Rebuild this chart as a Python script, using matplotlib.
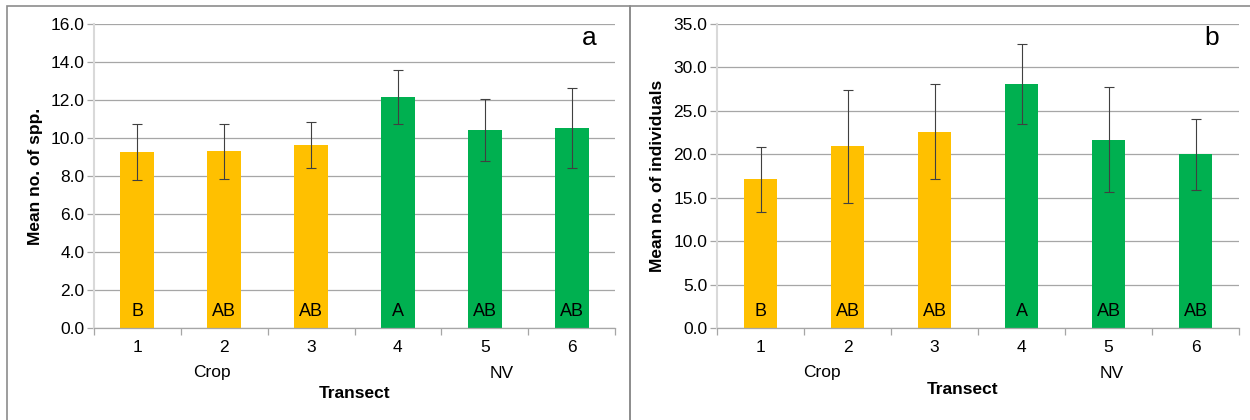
import matplotlib.pyplot as plt
import matplotlib.transforms as mtransforms
from matplotlib.patches import Rectangle
import numpy as np

plt.rcParams['font.family'] = ['Liberation Sans', 'DejaVu Sans']

transects = ['1', '2', '3', '4', '5', '6']
bar_colors = ['#FFC000', '#FFC000', '#FFC000', '#00B050', '#00B050', '#00B050']
letters = ['B', 'AB', 'AB', 'A', 'AB', 'AB']

spp_mean = [9.25, 9.29, 9.62, 12.15, 10.41, 10.53]
spp_err = [1.47, 1.47, 1.2, 1.41, 1.63, 2.1]

ind_mean = [17.1, 20.9, 22.6, 28.1, 21.7, 20.0]
ind_err = [3.75, 6.5, 5.47, 4.6, 6.0, 4.08]

W, H = 1250, 420
FS = 12.5
fig = plt.figure(figsize=(12.5, 4.2), dpi=100)

# panel frames
frame_kw = dict(transform=fig.transFigure, fill=False, edgecolor='#8c8c8c', lw=1.2)
fig.patches.append(Rectangle((7 / W, -0.1), (630 - 7) / W, 1.1 - 6.5 / H, **frame_kw))
fig.patches.append(Rectangle((630 / W, -0.1), 0.6, 1.1 - 6.5 / H, **frame_kw))


def draw_panel(left_px, right_px, means, errs, ymax, ystep, ylabel, ylab_x,
               tag, tag_x, crop_x, nv_x, transect_x, transect_y):
    ax = fig.add_axes([left_px / W, 1 - 328 / H, (right_px - left_px) / W, 304 / H])
    x = np.arange(len(transects))
    ax.bar(x, means, width=0.39, color=bar_colors, zorder=2)
    ax.errorbar(x, means, yerr=errs, fmt='none', ecolor='#404040', elinewidth=0.8,
                capsize=3.5, capthick=0.8, zorder=3)
    ax.set_xlim(-0.5, len(transects) - 0.5)
    ax.set_ylim(0, ymax)
    yt = np.arange(0, ymax + 0.01, ystep)
    ax.set_yticks(yt)
    ax.set_yticklabels([f'{v:.1f}' for v in yt], fontsize=FS)
    ax.yaxis.grid(True, color='#a6a6a6', lw=0.9, zorder=0)
    ax.set_axisbelow(True)
    ax.set_xticks(x)
    ax.set_xticklabels(transects, fontsize=FS)
    ax.set_xticks(np.arange(-0.5, len(transects)), minor=True)
    ax.tick_params(axis='x', which='major', length=0, pad=9)
    ax.tick_params(axis='x', which='minor', length=5, color='#a6a6a6', width=0.9)
    ax.tick_params(axis='y', length=5, color='#a6a6a6', width=0.9, pad=2)
    for s in ['top', 'right']:
        ax.spines[s].set_visible(False)
    ax.spines['left'].set_color('#d9d9d9')
    ax.spines['left'].set_linewidth(1.5)
    ax.spines['bottom'].set_color('#a6a6a6')
    ax.spines['bottom'].set_linewidth(0.9)

    trans = mtransforms.blended_transform_factory(ax.transData, ax.transAxes)
    for xi, lab in zip(x, letters):
        ax.text(xi, 0.053, lab, transform=trans, ha='center', va='center', fontsize=FS + 0.5)

    fig.text(ylab_x / W, 1 - 176 / H, ylabel, rotation=90, ha='center', va='center',
             fontsize=FS, fontweight='bold')
    fig.text(tag_x / W, 1 - 38 / H, tag, ha='center', va='center', fontsize=19)
    fig.text(crop_x / W, 1 - 373 / H, 'Crop', ha='center', va='center', fontsize=FS)
    fig.text(nv_x / W, 1 - 373 / H, 'NV', ha='center', va='center', fontsize=FS)
    fig.text(transect_x / W, 1 - transect_y / H, 'Transect', ha='center', va='center',
             fontsize=FS, fontweight='bold')
    return ax


draw_panel(94, 615, spp_mean, spp_err, 16.0, 2.0, 'Mean no. of spp.', 36,
           'a', 589, 212, 502, 355, 393)
draw_panel(717, 1239, ind_mean, ind_err, 35.0, 5.0, 'Mean no. of individuals', 657,
           'b', 1212, 822, 1112, 963, 390)

fig.savefig('out.png', dpi=100)
